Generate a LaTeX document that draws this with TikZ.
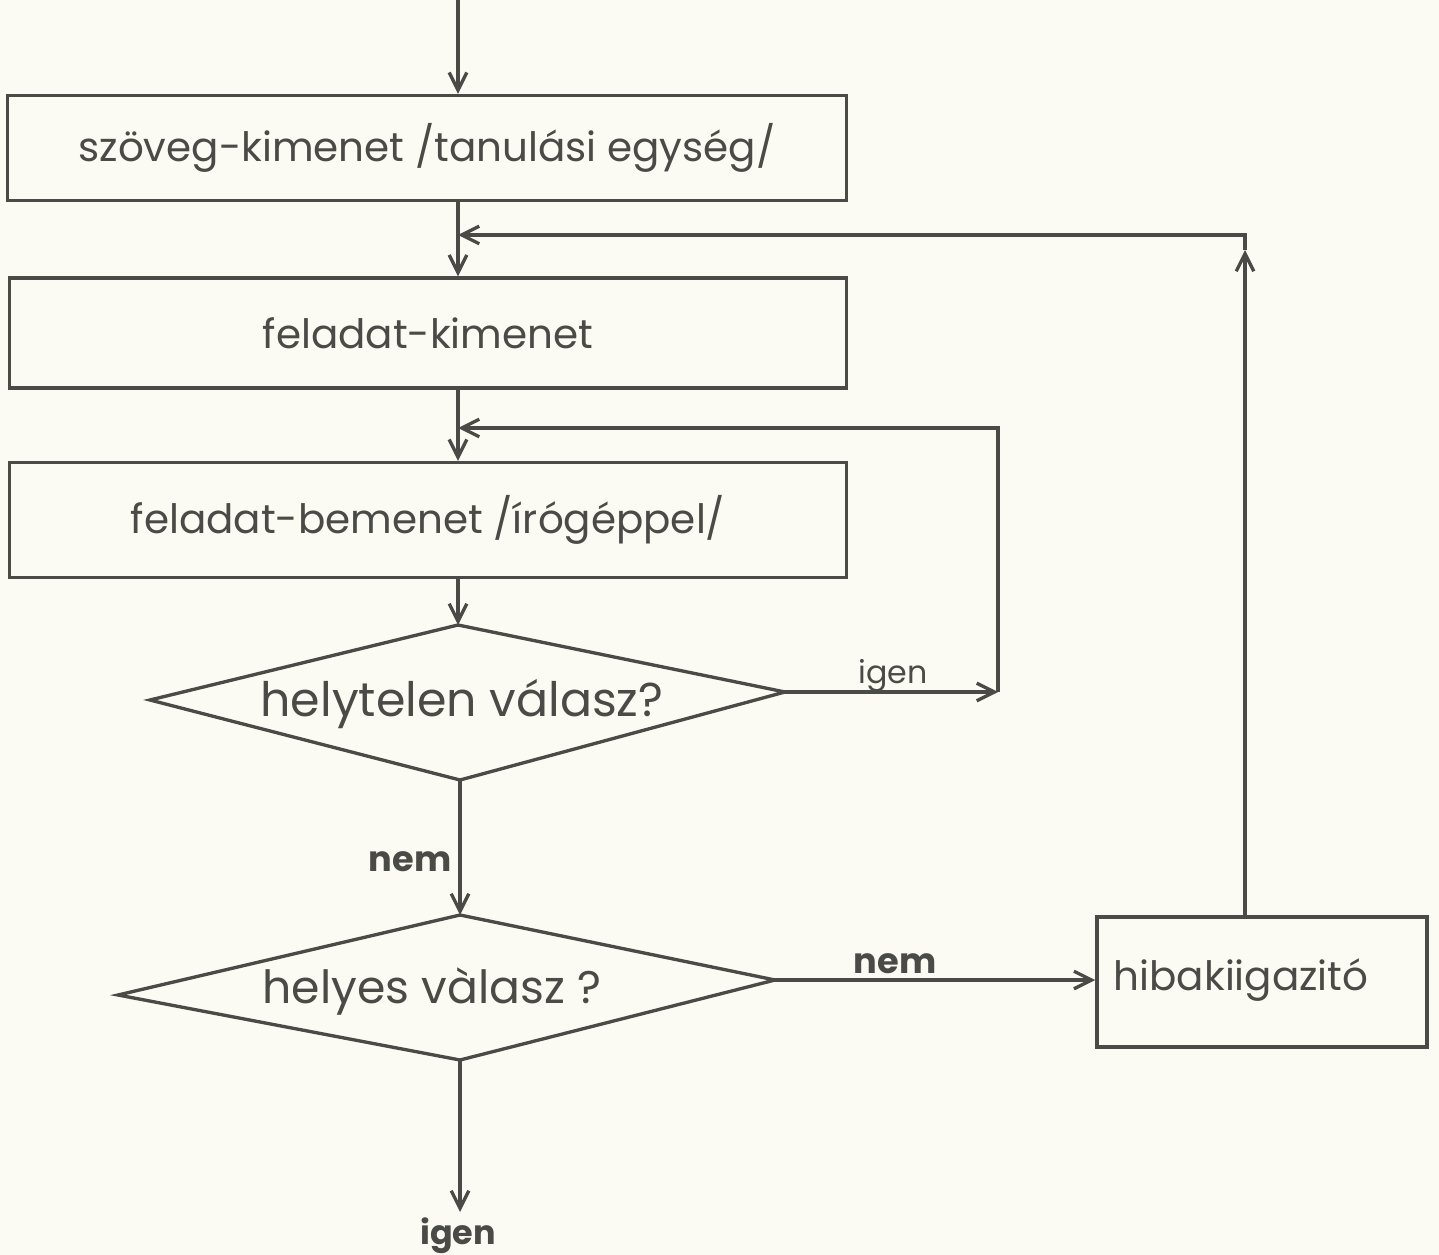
\documentclass[tikz,border=0pt]{standalone}
\usepackage{fontspec}
\setmainfont{Poppins}
\usetikzlibrary{arrows.meta}
\definecolor{ink}{HTML}{4A4A46}
\definecolor{paper}{HTML}{FBFAF3}
\begin{document}
\begin{tikzpicture}[x=0.01cm,y=-0.01cm,
  inkline/.style={draw=ink, line width=0.95pt},
  arr/.style={inkline, -{Straight Barb[length=5pt,width=5pt]}},
  procbox/.style={inkline, rectangle, inner sep=0pt, text=ink,
    font=\fontsize{11.5}{13}\selectfont},
  qtext/.style={text=ink, inner sep=0pt, font=\fontsize{13.5}{15}\selectfont},
  lbl/.style={text=ink, inner sep=1pt, font=\fontsize{9}{11}\selectfont}]
% paper
\fill[paper] (0,0) rectangle (1439,1255);
\useasboundingbox (0,0) rectangle (1439,1255);

% blocks
\node[procbox, minimum width=8.38cm, minimum height=1.05cm] (out) at (427,148)
  {szöveg-kimenet /tanulási egység/};
\node[procbox, minimum width=8.36cm, minimum height=1.10cm] (task) at (428,333)
  {feladat-kimenet};
\node[procbox, minimum width=8.36cm, minimum height=1.15cm] (inp) at (428,520)
  {feladat-bemenet /írógéppel/};
\node[procbox, minimum width=3.3cm, minimum height=1.3cm] (fix) at (1262,982) {};
\node[procbox, draw=none, anchor=west] (fixtext) at (1112,980) {hibakiigazitó};

% decision: wrong answer?
\coordinate (w-t) at (458,625);
\coordinate (w-l) at (150,700);
\coordinate (w-r) at (785,692);
\coordinate (w-b) at (460,780);
\draw[inkline, line join=miter] (w-t) -- (w-r) -- (w-b) -- (w-l) -- cycle;
\node[qtext] (wrong) at (462,704) {helytelen válasz?};

% decision: right answer?
\coordinate (r-t) at (460,915);
\coordinate (r-l) at (118,995);
\coordinate (r-r) at (775,980);
\coordinate (r-b) at (460,1060);
\draw[inkline, line join=miter] (r-t) -- (r-r) -- (r-b) -- (r-l) -- cycle;
\node[qtext, font=\fontsize{13}{15}\selectfont] (right) at (432,992) {helyes vàlasz ?};

% routing points
\coordinate (start) at (458,0);
\coordinate (j1) at (458,235);
\coordinate (j2) at (458,428);
\coordinate (loopc) at (998,692);
\coordinate (up) at (1245,250);
\coordinate (exit) at (460,1212);

% main flow
\draw[arr] (start) -- (out.north -| start);
\draw[arr] (out.south -| start) -- (task.north -| start);
\draw[arr] (task.south -| start) -- (inp.north -| start);
\draw[arr] (inp.south -| start) -- (w-t);
\draw[arr] (w-b) -- (r-t);
\node[lbl, font=\fontsize{10}{12}\bfseries] (no1) at (410,862) {nem};
\draw[arr] (r-b) -- (exit);
\node[lbl, font=\fontsize{9.5}{11}\bfseries] (yes2) at (458,1236) {igen};

% repeat the answer
\draw[arr] (w-r) -- (loopc);
\node[lbl] (yes1) at (893,676) {igen};
\draw[arr] (loopc) |- (j2);

% correction branch
\draw[arr] (r-r) -- (fix.west |- r-r);
\node[lbl, font=\fontsize{10}{12}\bfseries] (no2) at (895,964) {nem};
\draw[arr] (fix.north -| up) -- (up);
\draw[arr] (up) |- (j1);
\end{tikzpicture}
\end{document}
